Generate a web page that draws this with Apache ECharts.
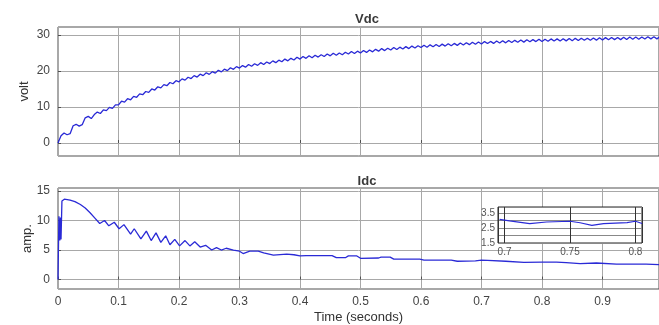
<!DOCTYPE html>
<html>
<head>
<meta charset="utf-8">
<script src="https://cdn.jsdelivr.net/npm/echarts@6/dist/echarts.min.js"></script>
<style>
html,body{margin:0;padding:0;background:#fff;}
#c{width:659px;height:325px;}
</style>
</head>
<body>
<div id="c"></div>
<script>
// ---- Data ----
const vdcTitle = 'Vdc';
const idcTitle = 'Idc';
const vdcUnit = 'volt';
const idcUnit = 'amp.';
const timeLabel = 'Time (seconds)';

// Vdc sampled every 0.005 s from 0 to 1.0 s
const vdcStep = 0.005;
const vdcValues = [
  0, 2.0, 2.8, 2.3, 2.6, 4.8, 5.2, 4.7, 5.1, 7.0,
  7.4, 6.8, 7.9, 8.6, 8.2, 9.2, 9.0, 9.9, 9.6, 10.6,
  10.6, 11.6, 11.35, 12.3, 12.0, 12.95, 12.7, 13.65, 13.4, 14.3,
  14.05, 15.0, 14.7, 15.6, 15.3, 16.2, 15.9, 16.8, 16.45, 17.3,
  17.0, 17.8, 17.45, 18.25, 17.9, 18.7, 18.3, 19.1, 18.7, 19.5,
  19.05, 19.8, 19.4, 20.2, 19.75, 20.5, 20.1, 20.9, 20.45, 21.2,
  20.8, 21.5, 21.05, 21.8, 21.3, 22.0, 21.55, 22.3, 21.8, 22.5,
  22.05, 22.8, 22.3, 23.0, 22.55, 23.3, 22.8, 23.5, 23.05, 23.8,
  23.3, 24.0, 23.5, 24.2, 23.65, 24.35, 23.85, 24.5, 24.0, 24.7,
  24.2, 24.9, 24.35, 25.0, 24.5, 25.2, 24.7, 25.4, 24.85, 25.5,
  25.0, 25.7, 25.15, 25.8, 25.3, 26.0, 25.5, 26.2, 25.65, 26.3,
  25.8, 26.5, 25.95, 26.6, 26.1, 26.75, 26.2, 26.9, 26.35, 27.0,
  26.5, 27.15, 26.6, 27.25, 26.7, 27.35, 26.8, 27.45, 26.9, 27.55,
  27.0, 27.65, 27.1, 27.75, 27.2, 27.85, 27.3, 27.95, 27.4, 28.05,
  27.5, 28.15, 27.6, 28.2, 27.65, 28.3, 27.75, 28.4, 27.8, 28.45,
  27.9, 28.5, 27.95, 28.6, 28.0, 28.65, 28.1, 28.7, 28.15, 28.8,
  28.2, 28.8, 28.25, 28.9, 28.3, 28.9, 28.3, 28.95, 28.35, 29.0,
  28.4, 29.05, 28.45, 29.1, 28.5, 29.1, 28.5, 29.15, 28.55, 29.2,
  28.6, 29.25, 28.65, 29.3, 28.7, 29.3, 28.7, 29.35, 28.75, 29.4,
  28.8, 29.4, 28.8, 29.45, 28.85, 29.5, 28.9, 29.5, 28.9, 29.5,
  28.9
];

// Idc (non-uniform samples)
const idcTimes = [
  0, 0.0015, 0.003, 0.004, 0.005, 0.0065, 0.0105, 0.02, 0.028, 0.037,
  0.045, 0.053, 0.061, 0.069, 0.077, 0.084, 0.093, 0.101, 0.109, 0.12,
  0.126, 0.137, 0.146, 0.154, 0.162, 0.17, 0.178, 0.185, 0.193, 0.201,
  0.21, 0.218, 0.226, 0.235, 0.244, 0.254, 0.262, 0.27, 0.278, 0.29,
  0.3, 0.306, 0.317, 0.331, 0.34, 0.356, 0.378, 0.39, 0.4, 0.41,
  0.453, 0.46, 0.475, 0.48, 0.494, 0.5, 0.53, 0.534, 0.549, 0.555,
  0.598, 0.605, 0.65, 0.66, 0.69, 0.7, 0.71, 0.74, 0.77, 0.8,
  0.824, 0.84, 0.863, 0.89, 0.923, 0.972, 1.0
];
const idcValues = [
  0, 10.7, 6.6, 10.5, 6.8, 13.3, 13.6, 13.45, 13.2, 12.7,
  12.1, 11.3, 10.4, 9.5, 10.0, 9.1, 9.7, 8.6, 9.3, 7.7,
  8.6, 6.9, 8.2, 6.6, 7.9, 6.3, 7.4, 5.9, 6.8, 5.7,
  6.6, 5.7, 6.4, 5.5, 5.8, 5.0, 5.4, 5.0, 5.3, 5.0,
  4.8, 4.4, 4.8, 4.8, 4.5, 4.15, 4.3, 4.2, 4.0, 4.05,
  4.05, 3.7, 3.7, 4.0, 4.0, 3.6, 3.65, 3.8, 3.8, 3.45,
  3.45, 3.3, 3.3, 3.1, 3.15, 3.3, 3.25, 3.1, 2.9, 2.95,
  2.95, 2.85, 2.7, 2.8, 2.6, 2.6, 2.5
];

// Inset (zoom of Idc, 0.7 - 0.8 s)
const insetTimes = [0.6962, 0.7038, 0.7192, 0.732, 0.75, 0.7577, 0.7667, 0.7756, 0.7936, 0.8, 0.8051];
const insetValues = [3.07, 2.97, 2.79, 2.9, 2.95, 2.85, 2.67, 2.79, 2.86, 2.95, 2.8];

// ---- Chart ----
const FONT = '"Liberation Sans", Arial, Helvetica, sans-serif';
const LINE = '#2a2ad6';
const GRIDC = '#a8a8a8';
const FRAME = '#505050';
const LABC = '#444';
const XMAX = 0.9934; // visible end of the cropped time axis

const vdcData = vdcValues.map((v, i) => [i * vdcStep, v]);
const idcData = idcValues.map((v, i) => [idcTimes[i], v]);
const insetData = insetValues.map((v, i) => [insetTimes[i], v]);

function multFmt(step) {
  return function (v) {
    const r = v / step;
    return Math.abs(r - Math.round(r)) < 1e-6 ? String(+v.toFixed(3)) : '';
  };
}

const chart = echarts.init(document.getElementById('c'), null, { renderer: 'canvas' });

const baseX = {
  type: 'value', min: 0, max: XMAX, interval: 0.1,
  axisLine: { show: false },
  axisTick: { show: true, inside: true, length: 3, lineStyle: { color: FRAME } },
  splitLine: { show: true, lineStyle: { color: GRIDC, width: 1 } },
};

chart.setOption({
  animation: false,
  backgroundColor: '#fff',
  textStyle: { fontFamily: FONT },
  title: [
    { text: vdcTitle, left: 362, top: 8, textAlign: 'center',
      textStyle: { fontSize: 13, fontWeight: 'bold', color: '#3a3a3a', fontFamily: FONT } },
    { text: idcTitle, left: 362, top: 170, textAlign: 'center',
      textStyle: { fontSize: 13, fontWeight: 'bold', color: '#3a3a3a', fontFamily: FONT } }
  ],
  grid: [
    { left: 58, top: 27, right: 0, height: 129, show: true, borderColor: FRAME, borderWidth: 1, backgroundColor: '#fff' },
    { left: 58, top: 188, right: 0, height: 104, show: true, borderColor: FRAME, borderWidth: 1, backgroundColor: '#fff' },
    { left: 498, top: 207, width: 144, height: 36, show: true, borderColor: '#222', borderWidth: 1, backgroundColor: '#fff', z: 5 }
  ],
  xAxis: [
    Object.assign({}, baseX, { gridIndex: 0, axisLabel: { show: false } }),
    Object.assign({}, baseX, { gridIndex: 1,
      axisLabel: { show: true, color: LABC, fontSize: 12, margin: 7, fontFamily: FONT,
        showMaxLabel: false,
        formatter: multFmt(0.1) },
      name: timeLabel, nameLocation: 'middle', nameGap: 22, nameMoveOverlap: false,
      nameTextStyle: { color: '#333', fontSize: 13, fontFamily: FONT } }),
    { type: 'value', gridIndex: 2, min: 0.695, max: 0.805, splitNumber: 2, z: 6,
      axisLine: { show: false },
      axisTick: { show: false },
      splitLine: { show: true, lineStyle: { color: '#333', width: 1 } },
      axisLabel: { show: true, color: '#555', fontSize: 10, margin: 4, fontFamily: FONT,
        formatter: multFmt(0.05), showMinLabel: false, showMaxLabel: false } }
  ],
  yAxis: [
    { type: 'value', gridIndex: 0, min: -3.6, max: 32.2, splitNumber: 4,
      axisLine: { show: false },
      axisTick: { show: true, inside: true, length: 3, lineStyle: { color: FRAME } },
      splitLine: { show: true, lineStyle: { color: GRIDC, width: 1 } },
      axisLabel: { color: LABC, fontSize: 12, margin: 8, fontFamily: FONT, formatter: multFmt(10),
        showMinLabel: false, showMaxLabel: false },
      name: vdcUnit, nameLocation: 'middle', nameGap: 27, nameRotate: 90, nameMoveOverlap: false,
      nameTextStyle: { color: '#333', fontSize: 13, fontFamily: FONT } },
    { type: 'value', gridIndex: 1, min: -1.6, max: 15.5, splitNumber: 4,
      axisLine: { show: false },
      axisTick: { show: true, inside: true, length: 3, lineStyle: { color: FRAME } },
      splitLine: { show: true, lineStyle: { color: GRIDC, width: 1 } },
      axisLabel: { color: LABC, fontSize: 12, margin: 8, fontFamily: FONT, formatter: multFmt(5),
        showMinLabel: false, showMaxLabel: false },
      name: idcUnit, nameLocation: 'middle', nameGap: 24, nameRotate: 90, nameMoveOverlap: false,
      nameTextStyle: { color: '#333', fontSize: 13, fontFamily: FONT } },
    { type: 'value', gridIndex: 2, min: 1.5, max: 3.9, interval: 0.5, z: 6,
      axisLine: { show: false },
      axisTick: { show: false },
      splitLine: { show: true, lineStyle: { color: '#888', width: 1 } },
      axisLabel: { color: '#555', fontSize: 10, margin: 3, fontFamily: FONT,
        formatter: v => ([1.5, 2.5, 3.5].some(k => Math.abs(k - v) < 1e-6) ? String(v) : '') } }
  ],
  series: [
    { type: 'line', xAxisIndex: 0, yAxisIndex: 0, data: vdcData, showSymbol: false, symbol: 'none',
      lineStyle: { color: LINE, width: 1.3 }, clip: true },
    { type: 'line', xAxisIndex: 1, yAxisIndex: 1, data: idcData, showSymbol: false, symbol: 'none',
      lineStyle: { color: LINE, width: 1.3 }, clip: true },
    { type: 'line', xAxisIndex: 2, yAxisIndex: 2, data: insetData, showSymbol: false, symbol: 'none',
      lineStyle: { color: LINE, width: 1.2 }, clip: true, z: 7 }
  ]
});
</script>
</body>
</html>
